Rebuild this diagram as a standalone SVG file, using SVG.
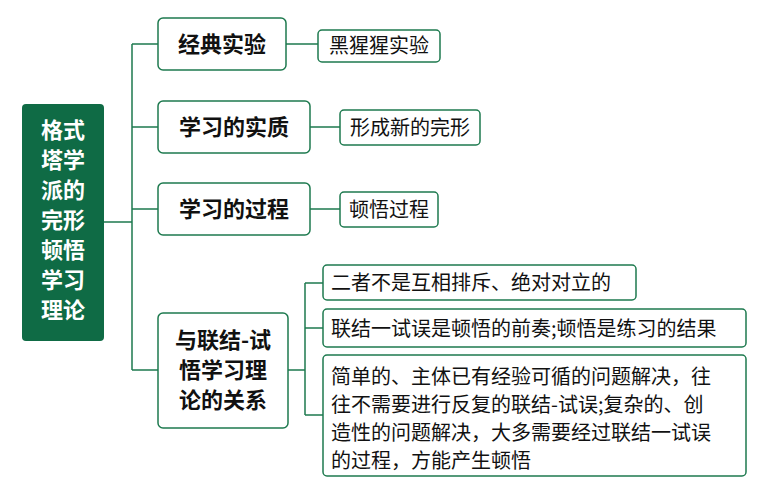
<svg xmlns="http://www.w3.org/2000/svg" width="761" height="500" viewBox="0 0 761 500">
<style>
.b{fill:#fff;stroke:#1e7a4f;stroke-width:1.5}
.t1{font-family:"Noto Sans CJK SC","Noto Sans",sans-serif;font-weight:bold;font-size:22px;fill:#111}
.t2{font-family:"Noto Sans CJK SC","Noto Sans",sans-serif;font-size:20px;fill:#111}
.c{fill:none;stroke:#1e7a4f;stroke-width:1.5}
</style>
<rect width="761" height="500" fill="#fff"/>
<g id="connectors">
<path class="c" d="M104 222H132M132 44V370M132 44H158M132 127H158M132 209H158M132 370H158"/>
<path class="c" d="M286 44H318M310 127H340M310 209H340"/>
<path class="c" d="M288 370H305M305 283V415M305 283H323M305 328H323M305 415H323"/>
</g>
<g id="root">
<rect x="22" y="104" width="82" height="237" rx="4" fill="#0f6b45"/>
<text font-family="Noto Sans CJK SC,sans-serif" font-weight="bold" font-size="22" fill="#fff" text-anchor="middle">
<tspan x="63" y="138">格式</tspan><tspan x="63" y="168">塔学</tspan><tspan x="63" y="198">派的</tspan><tspan x="63" y="228">完形</tspan><tspan x="63" y="258">顿悟</tspan><tspan x="63" y="288">学习</tspan><tspan x="63" y="318">理论</tspan></text>
</g>
<g id="n1"><rect class="b" x="158" y="18" width="128" height="52" rx="5"/><text class="t1" x="222" y="52" text-anchor="middle">经典实验</text></g>
<g id="n2"><rect class="b" x="158" y="101" width="152" height="52" rx="5"/><text class="t1" x="234" y="135" text-anchor="middle">学习的实质</text></g>
<g id="n3"><rect class="b" x="158" y="183" width="152" height="52" rx="5"/><text class="t1" x="234" y="217" text-anchor="middle">学习的过程</text></g>
<g id="n4"><rect class="b" x="158" y="313" width="130" height="115" rx="5"/><text class="t1" text-anchor="middle"><tspan x="223" y="348">与联结-试</tspan><tspan x="223" y="378">悟学习理</tspan><tspan x="223" y="408">论的关系</tspan></text></g>
<g id="m1"><rect class="b" x="318" y="30" width="122" height="32" rx="4"/><text class="t2" x="379" y="53" text-anchor="middle">黑猩猩实验</text></g>
<g id="m2"><rect class="b" x="340" y="110" width="140" height="35" rx="4"/><text class="t2" x="410" y="135" text-anchor="middle">形成新的完形</text></g>
<g id="m3"><rect class="b" x="340" y="192" width="98" height="35" rx="4"/><text class="t2" x="389" y="217" text-anchor="middle">顿悟过程</text></g>
<g id="m4"><rect class="b" x="323" y="265" width="313" height="35" rx="4"/><text class="t2" x="331" y="290">二者不是互相排斥、绝对对立的</text></g>
<g id="m5"><rect class="b" x="323" y="309" width="423" height="38" rx="4"/><text class="t2" x="331" y="336">联结一试误是顿悟的前奏;顿悟是练习的结果</text></g>
<g id="m6"><rect class="b" x="323" y="355" width="423" height="121" rx="4"/><text class="t2"><tspan x="331" y="384">简单的、主体已有经验可循的问题解决，往</tspan><tspan x="331" y="412">往不需要进行反复的联结-试误;复杂的、创</tspan><tspan x="331" y="440">造性的问题解决，大多需要经过联结一试误</tspan><tspan x="331" y="468">的过程，方能产生顿悟</tspan></text></g>
</svg>
